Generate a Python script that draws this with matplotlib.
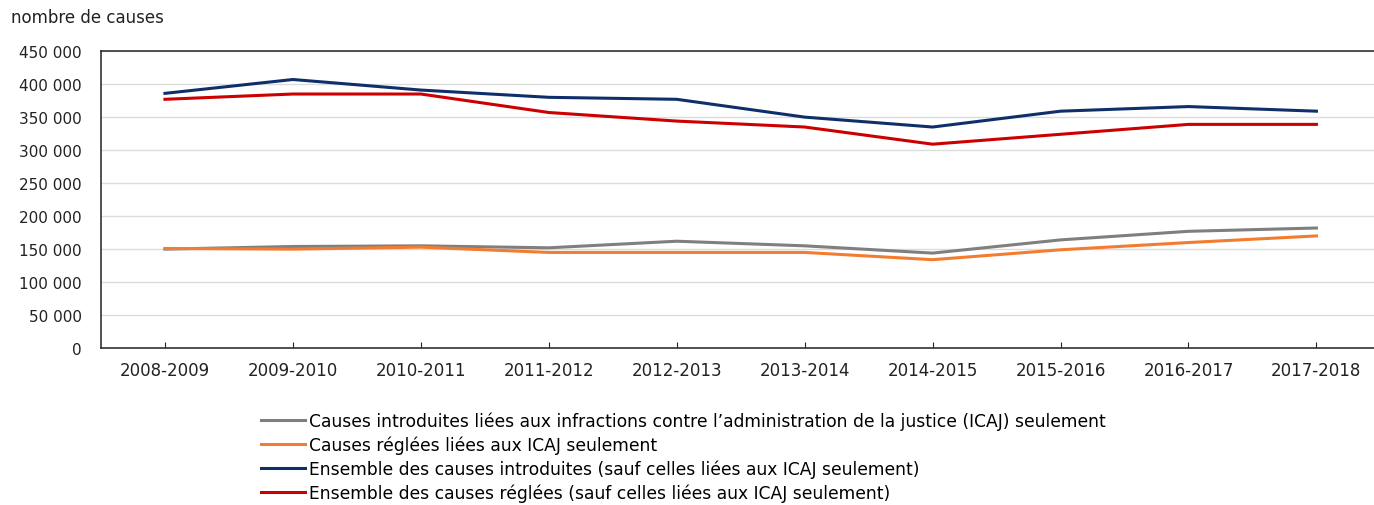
import numpy as np
import matplotlib.pyplot as plt
from matplotlib.ticker import FuncFormatter

annees = ['2008-2009', '2009-2010', '2010-2011', '2011-2012', '2012-2013',
          '2013-2014', '2014-2015', '2015-2016', '2016-2017', '2017-2018']
icaj_introduites = [150000, 154000, 155000, 152000, 162000, 155000, 144000, 164000, 177000, 182000]
icaj_reglees = [151000, 150000, 153000, 145000, 145000, 145000, 134000, 149000, 160000, 170000]
total_introduites = [386000, 407000, 391000, 380000, 377000, 350000, 335000, 359000, 366000, 359000]
total_reglees = [377000, 385000, 385000, 357000, 344000, 335000, 309000, 324000, 339000, 339000]

plt.rcParams['font.family'] = ['DejaVu Sans']

fig = plt.figure(figsize=(13.74, 5.06), dpi=100)
ax = fig.add_axes([0.0735, 0.31, 0.9265, 0.587])

x = np.arange(len(annees))
ax.plot(x, icaj_introduites, color='#7f7f7f', lw=2.2,
        label="Causes introduites liées aux infractions contre l’administration de la justice (ICAJ) seulement")
ax.plot(x, icaj_reglees, color='#f47c30', lw=2.2, label='Causes réglées liées aux ICAJ seulement')
ax.plot(x, total_introduites, color='#0f2f6b', lw=2.2,
        label='Ensemble des causes introduites (sauf celles liées aux ICAJ seulement)')
ax.plot(x, total_reglees, color='#cc0000', lw=2.2,
        label='Ensemble des causes réglées (sauf celles liées aux ICAJ seulement)')

ax.set_xlim(-0.5, 9.45)
ax.set_ylim(0, 450000)
ax.set_yticks(np.arange(0, 450001, 50000))
ax.yaxis.set_major_formatter(FuncFormatter(lambda v, p: f'{int(v):,}'.replace(',', ' ')))
ax.set_xticks(x)
ax.set_xticklabels(annees)
ax.grid(axis='y', color='#dcdcdc', lw=1)
ax.set_axisbelow(True)
ax.tick_params(axis='y', length=0, labelsize=11, pad=14, colors='#222222')
ax.tick_params(axis='x', direction='in', length=4, labelsize=12, pad=9, colors='#222222')
for s in ['left', 'bottom', 'top']:
    ax.spines[s].set_color('#333333')
    ax.spines[s].set_linewidth(1.2)
ax.spines['right'].set_visible(False)

fig.text(0.008, 0.955, 'nombre de causes', fontsize=12, color='#222222')

ax.legend(loc='upper left', bbox_to_anchor=(0.12, -0.19), frameon=False, fontsize=12.3,
          handlelength=2.6, handletextpad=0.25, labelspacing=0.33, borderaxespad=0)

plt.savefig('out.png', dpi=100)
